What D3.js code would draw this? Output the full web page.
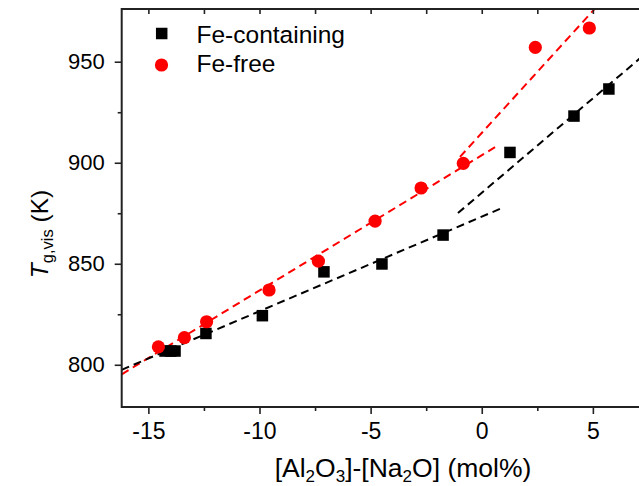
<!DOCTYPE html>
<html><head><meta charset="utf-8">
<script src="https://cdn.jsdelivr.net/npm/d3@7"></script>
<style>html,body{margin:0;padding:0;background:#fff;} svg{display:block;font-family:"Liberation Sans",Arial,sans-serif;}</style>
</head><body>
<svg id="c" width="639" height="486"></svg>
<script>
// Data
const feContX = [-14.25, -14.0, -13.8, -12.41, -9.87, -7.10, -4.49, -1.74, 1.27, 4.15, 5.72];
const feContT = [806.8, 806.8, 806.8, 815.5, 824.3, 846.0, 849.9, 864.2, 905.1, 923.1, 936.5];
const feFreeX = [-14.55, -13.38, -12.38, -9.57, -7.35, -4.80, -2.73, -0.83, 2.41, 4.84];
const feFreeT = [808.9, 813.4, 821.3, 837.0, 851.3, 871.1, 887.5, 899.7, 957.1, 966.7];
// dashed guide lines (endpoints)
const redFit1 = [[-16.2, 795.3], [0.6, 907.7]];
const redFit2 = [[-0.98, 902.9], [5.4, 980]];
const blackFit1 = [[-16.2, 797.5], [0.96, 877.8]];
const blackFit2 = [[-1.07, 875.1], [9.1, 970.2]];
const xMajor = [-15, -10, -5, 0, 5];
const xMinor = [-12.5, -7.5, -2.5, 2.5, 7.5];
const yMajor = [800, 850, 900, 950];
const yMinor = [825, 875, 925];
const legendLabels = ["Fe-containing", "Fe-free"];

const L = 121.7, R = 684, T = 9, B = 407;
const svg = d3.select("#c");
const x = d3.scaleLinear().domain([-16.2, 9.1]).range([L, R]);
const y = d3.scaleLinear().domain([779.1, 976.1]).range([B, T]);

svg.append("defs").append("clipPath").attr("id", "clip")
  .append("rect").attr("x", L).attr("y", T).attr("width", R - L).attr("height", B - T);

const plot = svg.append("g").attr("clip-path", "url(#clip)");
const line = d3.line().x(d => x(d[0])).y(d => y(d[1]));
[[redFit1, "#ff0000"], [redFit2, "#ff0000"], [blackFit1, "#000"], [blackFit2, "#000"]].forEach(([d, c]) => {
  plot.append("path").attr("d", line(d)).attr("fill", "none").attr("stroke", c)
    .attr("stroke-width", 2).attr("stroke-dasharray", "8,5");
});

const sq = 11.5;
plot.selectAll("rect.fe").data(feContX.map((v, i) => [v, feContT[i]])).enter().append("rect")
  .attr("x", d => x(d[0]) - sq / 2).attr("y", d => y(d[1]) - sq / 2)
  .attr("width", sq).attr("height", sq).attr("fill", "#000");
plot.selectAll("circle.ff").data(feFreeX.map((v, i) => [v, feFreeT[i]])).enter().append("circle")
  .attr("cx", d => x(d[0])).attr("cy", d => y(d[1])).attr("r", 6.6).attr("fill", "#ff0000");

// axes
const axCol = "#222";
const fmt = d => String(d);
function styleAxis(g, fs) {
  g.select(".domain").remove();
  g.selectAll("line").attr("stroke", axCol).attr("stroke-width", 1.6);
  g.selectAll("text").attr("fill", "#000").style("font-size", fs + "px").style("font-family", "'Liberation Sans',Arial,sans-serif");
}
const gB = svg.append("g").attr("transform", `translate(0,${B})`)
  .call(d3.axisBottom(x).tickValues(xMajor).tickSize(7).tickPadding(8).tickFormat(fmt));
styleAxis(gB, 23);
gB.selectAll("text").attr("dy", null).attr("y", 32);
const gBm = svg.append("g").attr("transform", `translate(0,${B})`)
  .call(d3.axisBottom(x).tickValues(xMinor).tickSize(4).tickFormat(""));
styleAxis(gBm, 23);
const gT = svg.append("g").attr("transform", `translate(0,${T})`)
  .call(d3.axisBottom(x).tickValues(xMajor.concat(xMinor)).tickSize(5).tickFormat(""));
styleAxis(gT, 23);
const gL = svg.append("g").attr("transform", `translate(${L},0)`)
  .call(d3.axisLeft(y).tickValues(yMajor).tickSize(7).tickPadding(10).tickFormat(fmt));
styleAxis(gL, 22);
const gLm = svg.append("g").attr("transform", `translate(${L},0)`)
  .call(d3.axisLeft(y).tickValues(yMinor).tickSize(4).tickFormat(""));
styleAxis(gLm, 22);

// frame lines
svg.append("line").attr("x1", L).attr("x2", R).attr("y1", B).attr("y2", B).attr("stroke", axCol).attr("stroke-width", 2);
svg.append("line").attr("x1", L).attr("x2", R).attr("y1", T).attr("y2", T).attr("stroke", axCol).attr("stroke-width", 2);
svg.append("line").attr("x1", L).attr("x2", L).attr("y1", T - 1).attr("y2", B + 1).attr("stroke", axCol).attr("stroke-width", 2);

// legend
const leg = svg.append("g");
leg.append("rect").attr("x", 161.7 - sq / 2).attr("y", 33.5 - sq / 2).attr("width", sq).attr("height", sq).attr("fill", "#000");
leg.append("circle").attr("cx", 161.5).attr("cy", 65).attr("r", 6.6).attr("fill", "#ff0000");
leg.selectAll("text").data(legendLabels).enter().append("text")
  .attr("x", 196.5).attr("y", (d, i) => 42.5 + i * 29.2)
  .style("font-size", "24.5px").attr("fill", "#000").text(d => d);

// x label
const xl = svg.append("text").attr("x", 403).attr("y", 477).attr("text-anchor", "middle")
  .style("font-size", "26.5px").attr("fill", "#000");
xl.append("tspan").text("[Al");
xl.append("tspan").text("2").style("font-size", "17px").attr("dy", 5);
xl.append("tspan").text("O").attr("dy", -5);
xl.append("tspan").text("3").style("font-size", "17px").attr("dy", 5);
xl.append("tspan").text("]-[Na").attr("dy", -5);
xl.append("tspan").text("2").style("font-size", "17px").attr("dy", 5);
xl.append("tspan").text("O] (mol%)").attr("dy", -5);

// y label
const yl = svg.append("text").attr("transform", "translate(48,234) rotate(-90)").attr("text-anchor", "middle")
  .style("font-size", "24.5px").attr("fill", "#000");
yl.append("tspan").text("T").style("font-style", "italic");
yl.append("tspan").text("g,vis").style("font-size", "16.5px").attr("dy", 5);
yl.append("tspan").text(" (K)").attr("dy", -5);
</script>
</body></html>
